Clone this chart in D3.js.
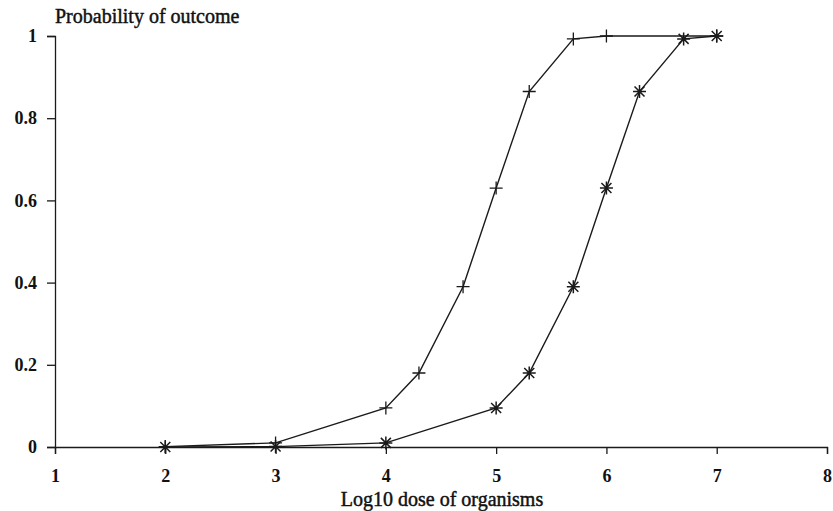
<!DOCTYPE html>
<html>
<head>
<meta charset="utf-8">
<script src="https://cdn.jsdelivr.net/npm/d3@7"></script>
<style>
  body { margin: 0; background: #fff; }
  svg { display: block; font-family: "Liberation Serif", "DejaVu Serif", serif; }
</style>
</head>
<body>
<div id="chart"></div>
<script>
// Dose-response curves: probability of outcome vs log10 dose
const plusDose = [2, 3, 4, 4.3, 4.7, 5, 5.3, 5.7, 6, 7];
const plusProb = [0.001, 0.01, 0.095, 0.18, 0.39, 0.63, 0.865, 0.993, 1.0, 1.0];
const starDose = [2, 3, 4, 5, 5.3, 5.7, 6, 6.3, 6.7, 7];
const starProb = [0.0001, 0.001, 0.01, 0.095, 0.18, 0.39, 0.63, 0.865, 0.993, 1.0];
const xTicks = [1, 2, 3, 4, 5, 6, 7, 8];
const yTicks = [0, 0.2, 0.4, 0.6, 0.8, 1];

const width = 833, height = 511;

const x = d3.scaleLinear().domain([1, 8]).range([55, 827]);
const y = d3.scaleLinear().domain([0, 1]).range([447, 36]);

const svg = d3.select("#chart")
  .append("svg")
  .attr("width", width)
  .attr("height", height);

// axes
const xAxis = svg.append("g")
  .attr("transform", `translate(0,${y(0)})`)
  .call(d3.axisBottom(x).tickValues(xTicks).tickSize(7).tickPadding(15).tickFormat(d3.format("d")));
const yAxis = svg.append("g")
  .attr("transform", `translate(${x(1)},0)`)
  .call(d3.axisLeft(y).tickValues(yTicks).tickSize(8).tickPadding(10).tickFormat(d => d === 0 || d === 1 ? d : d3.format(".1f")(d)));

[xAxis, yAxis].forEach(g => {
  g.select(".domain").attr("stroke", "#1a1a1a").attr("stroke-width", 1.3);
  g.selectAll(".tick line").attr("stroke", "#1a1a1a").attr("stroke-width", 1.3);
  g.selectAll(".tick text")
    .attr("fill", "#111")
    .attr("font-family", "Liberation Serif, serif")
    .attr("font-weight", "bold")
    .attr("font-size", "18px");
});

// titles
svg.append("text")
  .attr("x", 55)
  .attr("y", 23)
  .attr("font-size", "20px")
  .attr("fill", "#111")
  .attr("stroke", "#111")
  .attr("stroke-width", 0.45)
  .text("Probability of outcome");

svg.append("text")
  .attr("x", 442)
  .attr("y", 506)
  .attr("text-anchor", "middle")
  .attr("font-size", "20px")
  .attr("fill", "#111")
  .attr("stroke", "#111")
  .attr("stroke-width", 0.45)
  .text("Log10 dose of organisms");

const line = d3.line().x(d => x(d[0])).y(d => y(d[1]));
const plusData = plusDose.map((d, i) => [d, plusProb[i]]);
const starData = starDose.map((d, i) => [d, starProb[i]]);

[plusData, starData].forEach(data => {
  svg.append("path")
    .datum(data)
    .attr("fill", "none")
    .attr("stroke", "#1a1a1a")
    .attr("stroke-width", 1.4)
    .attr("d", line);
});

// plus markers
const s = 6.5;
svg.append("g")
  .selectAll("path")
  .data(plusData)
  .join("path")
    .attr("d", d => {
      const cx = x(d[0]), cy = y(d[1]);
      return `M${cx - s},${cy}H${cx + s}M${cx},${cy - s}V${cy + s}`;
    })
    .attr("stroke", "#1a1a1a")
    .attr("stroke-width", 1.3);

// star markers (asterisk with 8 arms)
const r = 6.5, rd = 5;
svg.append("g")
  .selectAll("path")
  .data(starData)
  .join("path")
    .attr("d", d => {
      const cx = x(d[0]), cy = y(d[1]);
      return `M${cx - r},${cy}H${cx + r}M${cx},${cy - r}V${cy + r}` +
        `M${cx - rd},${cy - rd}L${cx + rd},${cy + rd}M${cx - rd},${cy + rd}L${cx + rd},${cy - rd}`;
    })
    .attr("stroke", "#1a1a1a")
    .attr("stroke-width", 1.5);
</script>
</body>
</html>
